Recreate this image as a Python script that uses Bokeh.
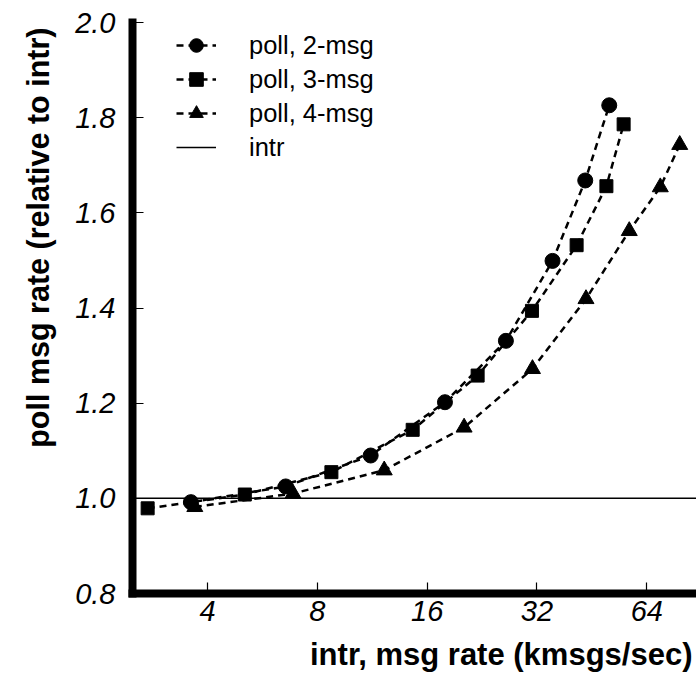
from bokeh.plotting import figure
from bokeh.models import (FixedTicker, NumeralTickFormatter, Title, Legend,
                          LegendItem, Range1d)
from bokeh.embed import file_html
from bokeh.resources import INLINE

# ---- data ----
x_2msg = [3.6, 6.55, 11.2, 17.9, 26.3, 35.3, 43.4, 50.5]
y_2msg = [0.992, 1.025, 1.090, 1.202, 1.331, 1.499, 1.668, 1.826]

x_3msg = [2.74, 5.06, 8.74, 14.6, 22.0, 31.0, 41.1, 49.6, 55.3]
y_3msg = [0.979, 1.008, 1.055, 1.144, 1.258, 1.394, 1.532, 1.656, 1.786]

x_4msg = [3.69, 6.86, 12.2, 20.2, 31.1, 43.6, 57.3, 69.7, 78.8]
y_4msg = [0.982, 1.010, 1.059, 1.149, 1.272, 1.419, 1.562, 1.654, 1.743]

intr_level = 1.0

x_ticks = [4, 8, 16, 32, 64]
y_ticks = [0.8, 1.0, 1.2, 1.4, 1.6, 1.8, 2.0]

x_lo, x_hi = 2.49, 87.6
y_lo, y_hi = 0.8, 2.0

series_labels = ["poll, 2-msg", "poll, 3-msg", "poll, 4-msg", "intr"]
x_title = "intr, msg rate (kmsgs/sec)"
y_title = "poll msg rate (relative to intr)"

FONT = "Liberation Sans"

p = figure(width=696, height=682, x_axis_type="log",
           x_range=Range1d(x_lo, x_hi), y_range=Range1d(y_lo, y_hi),
           output_backend="svg", toolbar_location=None,
           min_border_left=131, min_border_right=0,
           min_border_top=22, min_border_bottom=87)
p.outline_line_color = None
p.xgrid.visible = False
p.ygrid.visible = False
p.background_fill_color = "white"
p.border_fill_color = "white"

dash = "7 5"
lw = 2.5

l2 = p.line(x_2msg, y_2msg, line_color="black", line_width=lw, line_dash=dash)
s2 = p.scatter(x_2msg, y_2msg, marker="circle", size=15, color="black")
l3 = p.line(x_3msg, y_3msg, line_color="black", line_width=lw, line_dash=dash)
s3 = p.scatter(x_3msg, y_3msg, marker="square", size=13, color="black")
l4 = p.line(x_4msg, y_4msg, line_color="black", line_width=lw, line_dash=dash)
s4 = p.scatter(x_4msg, y_4msg, marker="triangle", size=16, color="black")
li = p.line([x_lo, x_hi], [intr_level, intr_level], line_color="black", line_width=1.5)

legend = Legend(items=[
    LegendItem(label=series_labels[0], renderers=[l2, s2]),
    LegendItem(label=series_labels[1], renderers=[l3, s3]),
    LegendItem(label=series_labels[2], renderers=[l4, s4]),
    LegendItem(label=series_labels[3], renderers=[li]),
], location=(44, 429))
legend.border_line_color = None
legend.background_fill_alpha = 0
legend.padding = 0
legend.margin = 0
legend.spacing = 0
legend.glyph_width = 40
legend.glyph_height = 34
legend.label_height = 34
legend.label_standoff = 33
legend.label_text_font = FONT
legend.label_text_font_size = "25.5px"
legend.label_text_color = "black"
p.add_layout(legend)

for ax in (p.xaxis[0], p.yaxis[0]):
    ax.axis_line_width = 8
    ax.axis_line_color = "black"
    ax.axis_line_cap = "square"
    ax.major_tick_in = 11
    ax.major_tick_out = 0
    ax.major_tick_line_width = 1.2
    ax.major_tick_line_color = "black"
    ax.minor_tick_line_color = None
    ax.major_label_text_font = FONT
    ax.major_label_text_font_style = "italic"
    ax.major_label_text_font_size = "29px"
    ax.major_label_text_color = "black"

p.xaxis.ticker = FixedTicker(ticks=x_ticks)
p.xaxis.formatter = NumeralTickFormatter(format="0")
p.xaxis.major_label_standoff = 7
p.yaxis.ticker = FixedTicker(ticks=y_ticks)
p.yaxis.formatter = NumeralTickFormatter(format="0.0")
p.yaxis.major_label_standoff = 17

xt = Title(text=x_title, align="right", offset=4,
           text_font=FONT, text_font_size="31px", text_font_style="bold",
           text_color="black", standoff=22)
p.add_layout(xt, "below")

yt = Title(text=y_title, align="right", offset=5,
           text_font=FONT, text_font_size="30.5px", text_font_style="bold",
           text_color="black", standoff=36)
p.add_layout(yt, "left")

open("out.html", "w").write(file_html(p, INLINE))
